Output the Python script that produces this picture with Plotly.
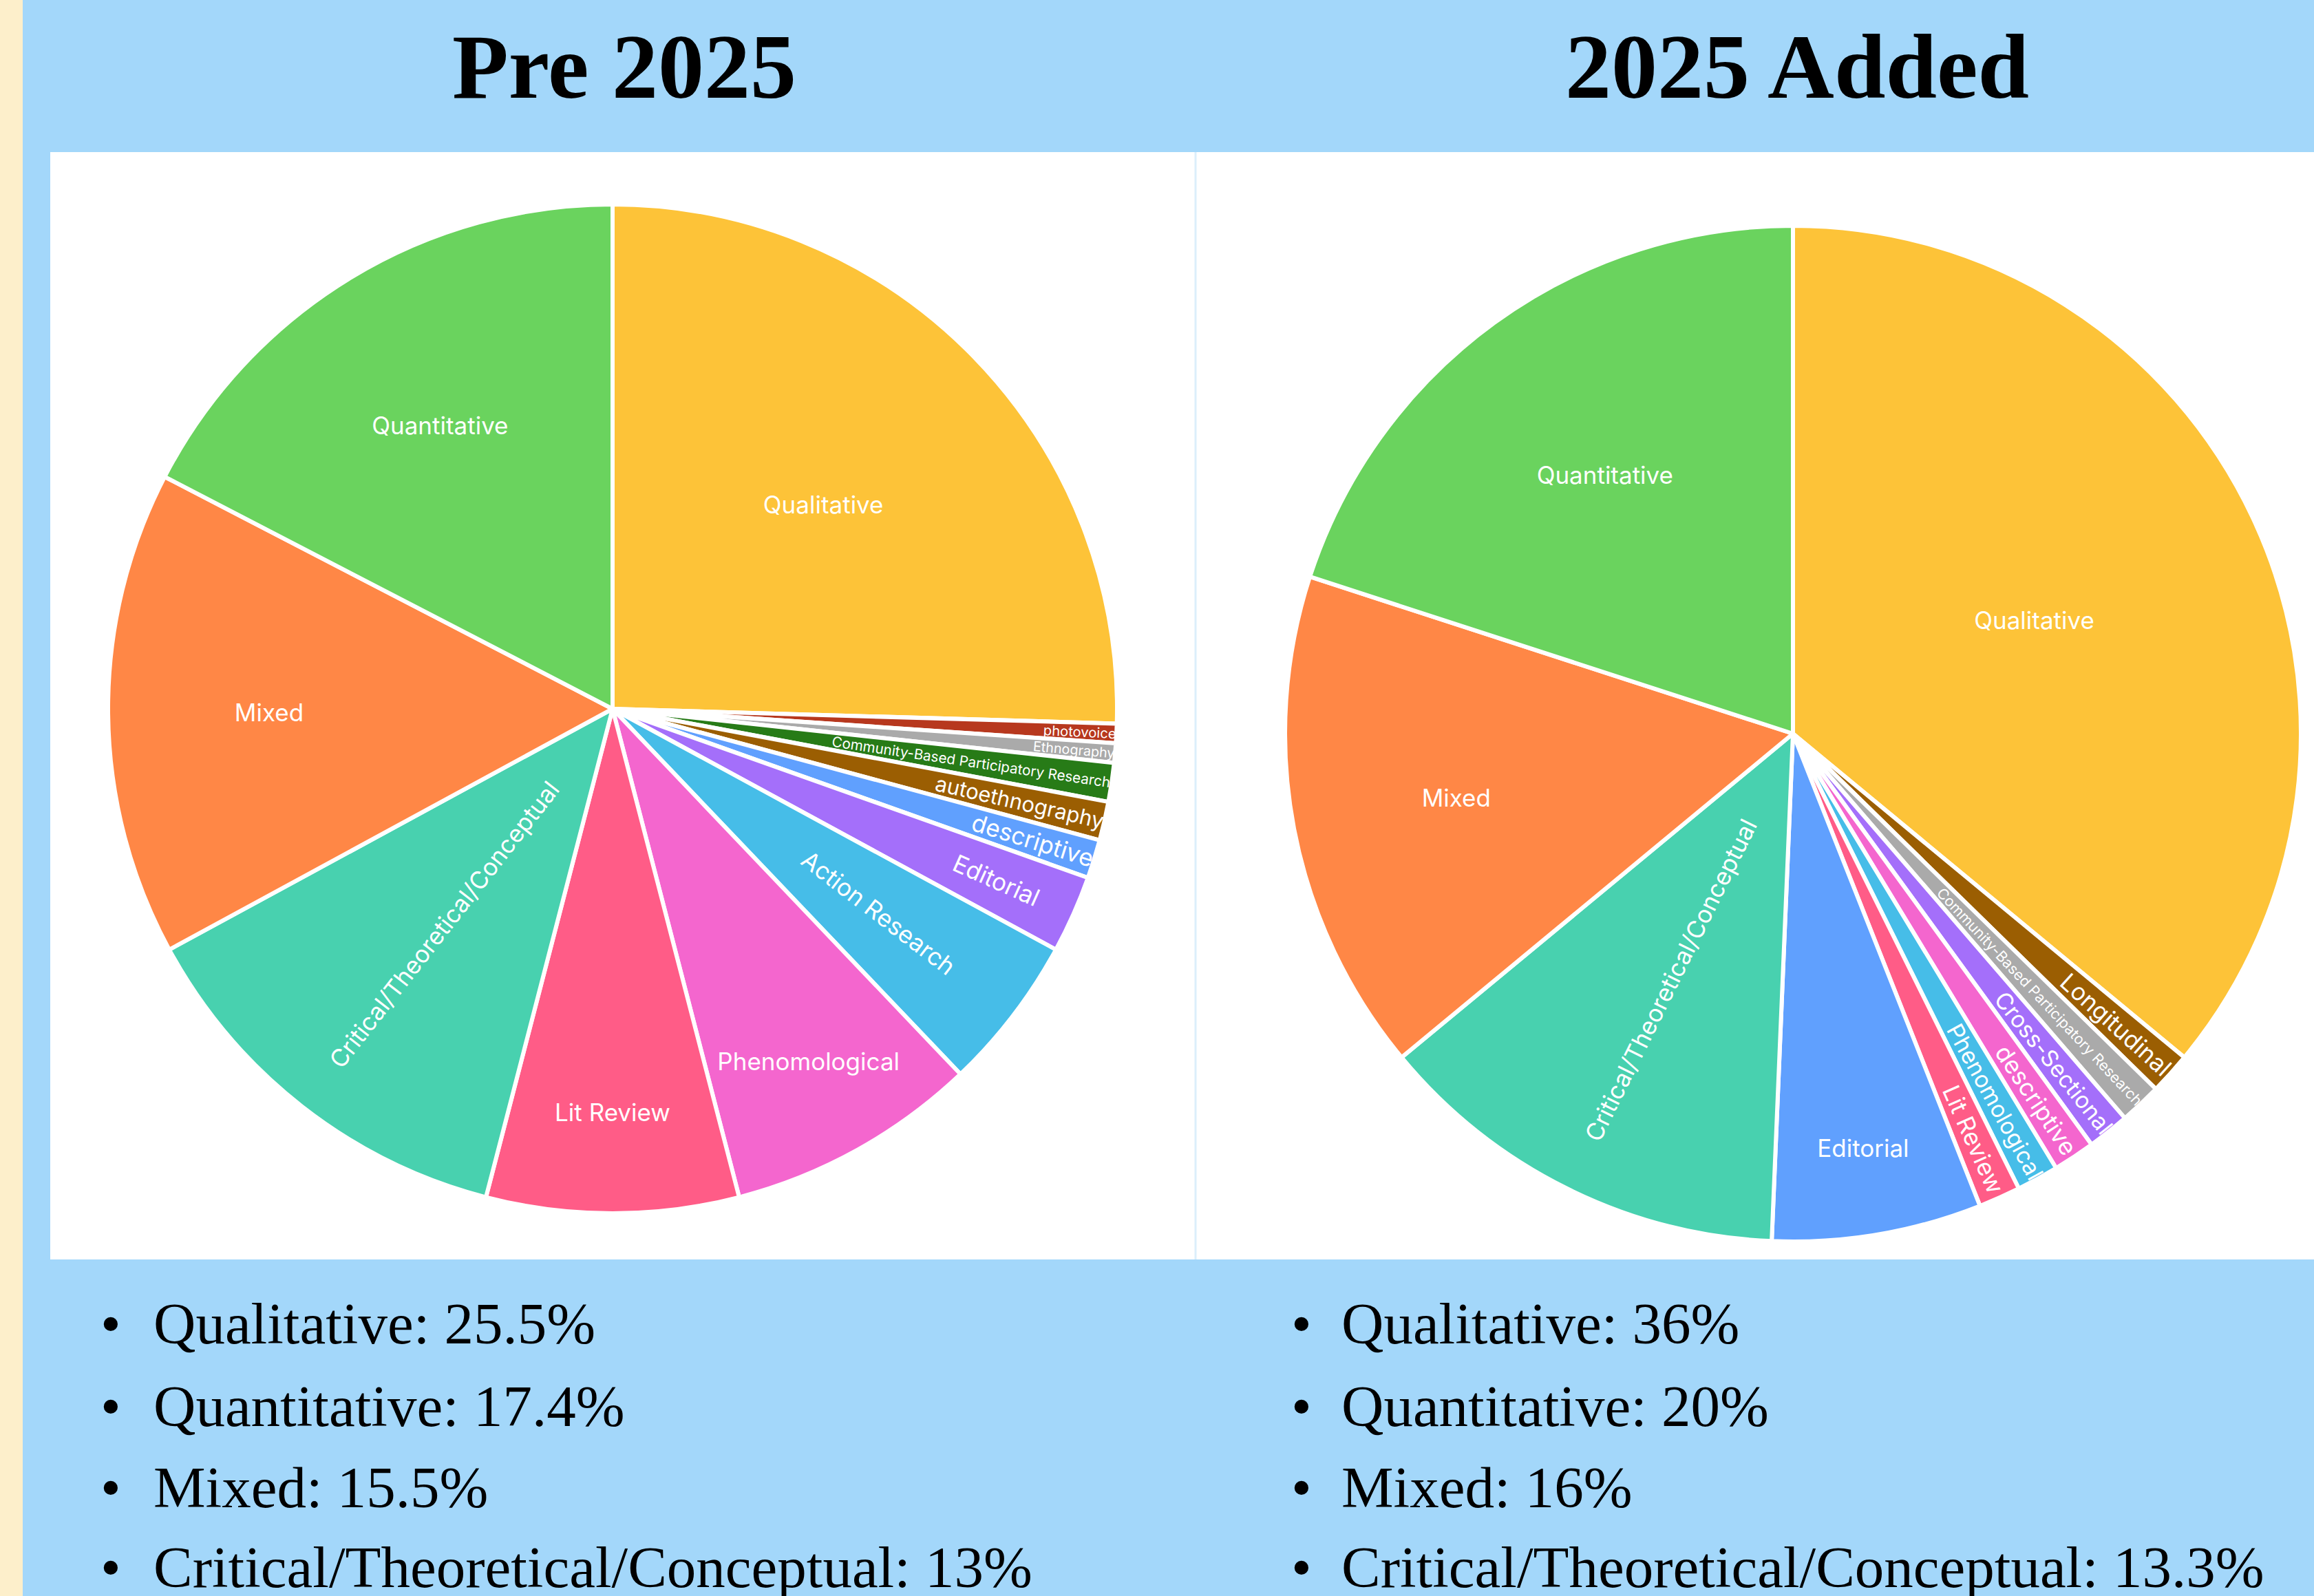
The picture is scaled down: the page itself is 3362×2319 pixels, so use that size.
import plotly.graph_objects as go

W, H = 3362, 2319

# ---------------- data ----------------
pre_labels = ["Qualitative", "photovoice", "Ethnography",
              "Community-Based Participatory Research", "autoethnography",
              "descriptive", "Editorial", "Action Research", "Phenomological",
              "Lit Review", "Critical/Theoretical/Conceptual", "Mixed", "Quantitative"]
pre_counts = [41, 1, 1, 2, 2, 2, 4, 8, 13, 13, 21, 25, 28]
pre_colors = ["#FDC338", "#B7381E", "#AAAAAA", "#277B17", "#9B5E02",
              "#60A0FE", "#A46FFA", "#46BDE8", "#F466CE", "#FF5C87",
              "#48D1AF", "#FF8746", "#6AD35E"]

new_labels = ["Qualitative", "Longitudinal", "Community-Based Participatory Research",
              "Cross-Sectional", "descriptive", "Phenomological", "Lit Review",
              "Editorial", "Critical/Theoretical/Conceptual", "Mixed", "Quantitative"]
new_counts = [27, 1, 1, 1, 1, 1, 1, 5, 10, 12, 15]
new_colors = ["#FDC338", "#9B5E02", "#AAAAAA", "#A46FFA", "#F466CE",
              "#46BDE8", "#FF5C87", "#60A0FE", "#48D1AF", "#FF8746", "#6AD35E"]

bullet_cats = ["Qualitative", "Quantitative", "Mixed", "Critical/Theoretical/Conceptual"]
titles = ["Pre 2025", "2025 Added"]


def px_x(x):
    return x / W


def px_y(y):
    return 1 - y / H


def pct(counts, labels, name):
    v = 100 * counts[labels.index(name)] / sum(counts)
    s = f"{v:.1f}"
    if s.endswith(".0"):
        s = s[:-2]
    return s + "%"


fig = go.Figure()

pie_common = dict(
    sort=False, direction="clockwise", rotation=0,
    textinfo="label", textposition="inside", insidetextorientation="auto",
    insidetextfont=dict(color="white", size=35, family="Inter, Roboto, sans-serif"),
    hoverinfo="label+percent", showlegend=False,
)

# left pie: centre (890,1030) r 733
fig.add_trace(go.Pie(
    labels=pre_labels, values=pre_counts,
    marker=dict(colors=pre_colors, line=dict(color="white", width=6)),
    domain=dict(x=[px_x(890 - 733), px_x(890 + 733)], y=[px_y(1030 + 733), px_y(1030 - 733)]),
    **pie_common))

# right pie: centre (2605,1066) r 738
fig.add_trace(go.Pie(
    labels=new_labels, values=new_counts,
    marker=dict(colors=new_colors, line=dict(color="white", width=6)),
    domain=dict(x=[px_x(2605 - 738), px_x(2605 + 738)], y=[px_y(1066 + 738), px_y(1066 - 738)]),
    **pie_common))

shapes = [
    dict(type="rect", xref="paper", yref="paper", x0=0, x1=px_x(33), y0=0, y1=1,
         fillcolor="#FDEFCB", line=dict(width=0), layer="below"),
    dict(type="rect", xref="paper", yref="paper", x0=px_x(73), x1=1, y0=px_y(1830), y1=px_y(221),
         fillcolor="white", line=dict(width=0), layer="below"),
    dict(type="line", xref="paper", yref="paper", x0=px_x(1737), x1=px_x(1737),
         y0=px_y(1830), y1=px_y(221), line=dict(color="#DCEFFB", width=3), layer="below"),
]

annotations = []
title_font = dict(family="Liberation Serif, Times New Roman, serif", size=134, color="black")
for t, cx in zip(titles, [907, 2611]):
    annotations.append(dict(text=f"<b>{t}</b>", x=px_x(cx), y=px_y(97), xref="paper", yref="paper",
                            xanchor="center", yanchor="middle", showarrow=False, font=title_font))

bullet_font = dict(family="Liberation Serif, Times New Roman, serif", size=85, color="black")
row_y = [1923, 2043, 2161, 2277]
for counts, labels, bx, tx in [(pre_counts, pre_labels, 161, 221), (new_counts, new_labels, 1891, 1947)]:
    for cat, ry in zip(bullet_cats, row_y):
        annotations.append(dict(text="•", x=px_x(bx), y=px_y(ry), xref="paper", yref="paper",
                                xanchor="center", yanchor="middle", showarrow=False, font=bullet_font))
        annotations.append(dict(text=f"{cat}: {pct(counts, labels, cat)}", x=px_x(tx), y=px_y(ry),
                                xref="paper", yref="paper", xanchor="left", yanchor="middle",
                                showarrow=False, font=bullet_font))

fig.update_layout(
    width=W, height=H, margin=dict(l=0, r=0, t=0, b=0),
    paper_bgcolor="#A3D7FA", plot_bgcolor="#A3D7FA",
    shapes=shapes, annotations=annotations,
)

fig.write_html("out.html", config={"displayModeBar": False},
               post_script="document.body.style.margin='0';document.body.style.padding='0';"
                           "document.body.style.overflow='hidden';")
